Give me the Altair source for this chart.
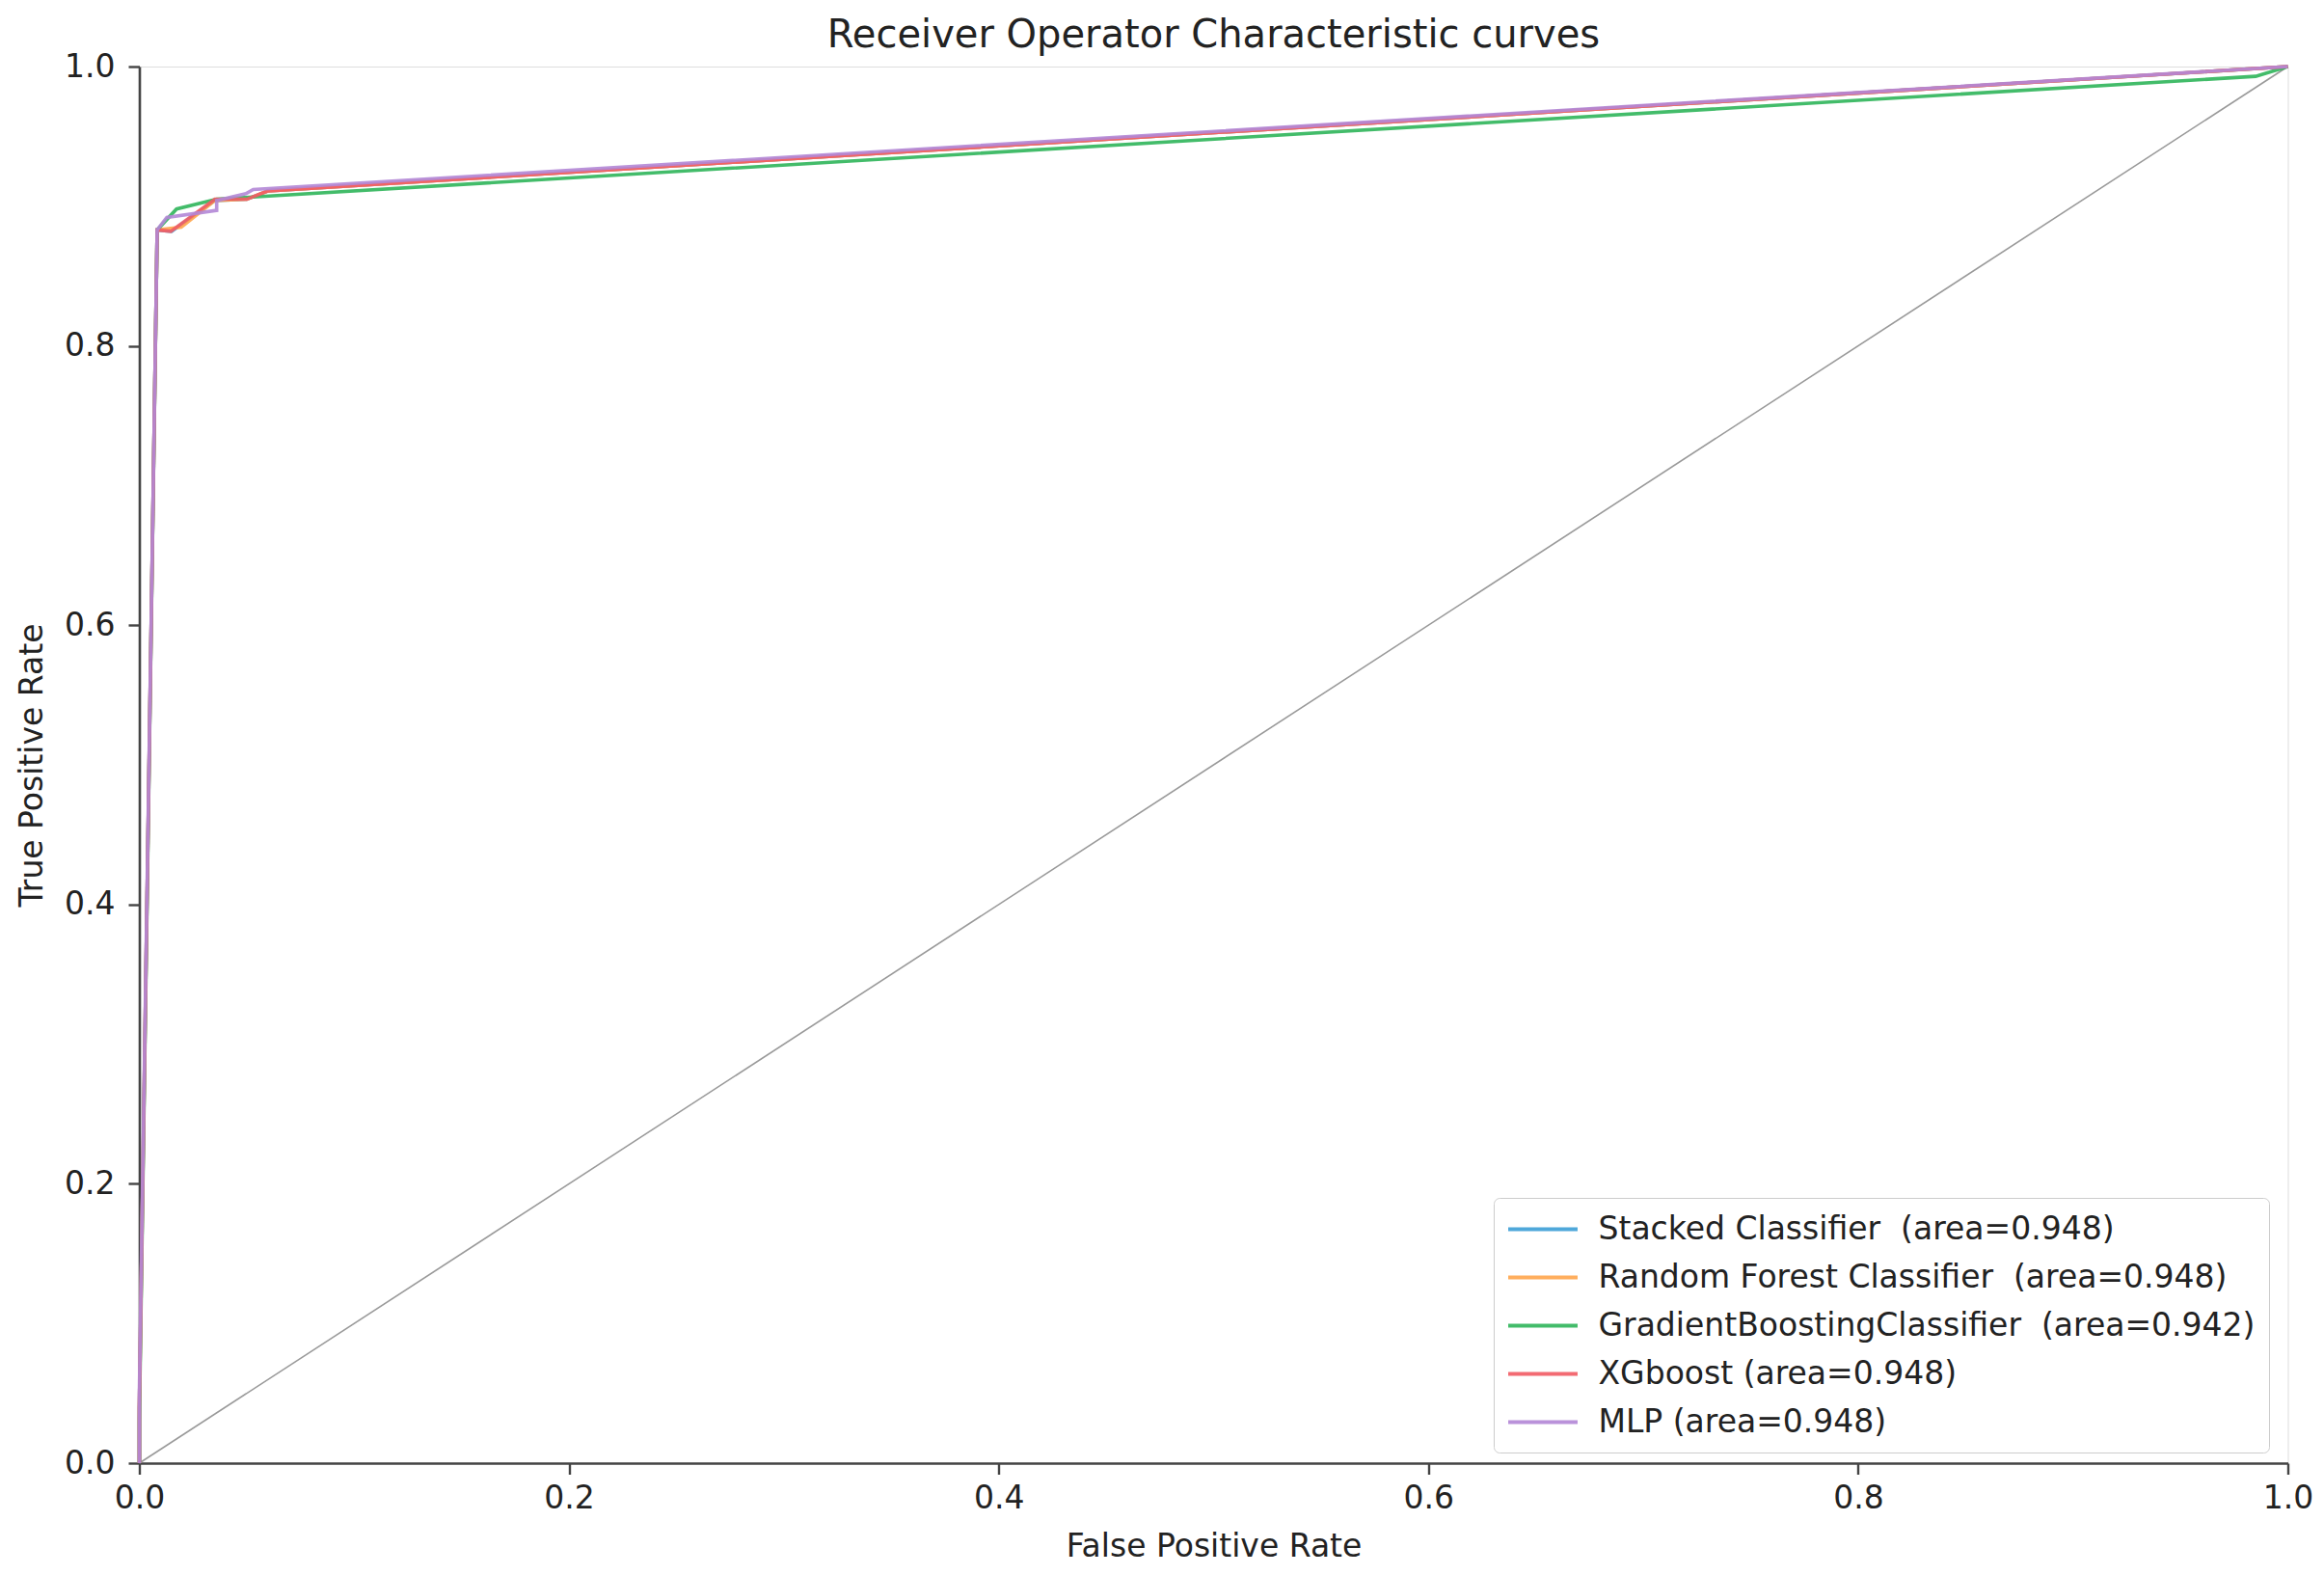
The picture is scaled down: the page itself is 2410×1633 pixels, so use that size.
import altair as alt
import pandas as pd

# ---- data ----
models = [
    "Stacked Classifier\u00a0 (area=0.948)",
    "Random Forest Classifier\u00a0 (area=0.948)",
    "GradientBoostingClassifier\u00a0 (area=0.942)",
    "XGboost (area=0.948)",
    "MLP (area=0.948)",
]
colors = ["#3d9fd6", "#ffa64d", "#2fb55a", "#f25c64", "#b387d6"]

stacked_fpr = [0.0, 0.0, 0.0083, 0.0150, 0.0350, 0.0500, 0.0600, 1.0]
stacked_tpr = [0.0, 0.04, 0.883, 0.882, 0.904, 0.905, 0.911, 1.0]

rf_fpr = [0.0, 0.0, 0.0083, 0.0195, 0.0350, 0.0500, 0.0600, 1.0]
rf_tpr = [0.0, 0.04, 0.883, 0.885, 0.904, 0.905, 0.911, 1.0]

gb_fpr = [0.0, 0.0, 0.0083, 0.0173, 0.0360, 0.985, 1.0]
gb_tpr = [0.0, 0.03, 0.883, 0.898, 0.905, 0.993, 1.0]

xgb_fpr = [0.0, 0.0, 0.0083, 0.0146, 0.0352, 0.0500, 0.0600, 1.0]
xgb_tpr = [0.0, 0.04, 0.883, 0.882, 0.905, 0.905, 0.911, 1.0]

mlp_fpr = [0.0, 0.0, 0.0083, 0.0128, 0.0360, 0.0360, 0.0496, 0.0530, 1.0]
mlp_tpr = [0.0, 0.05, 0.883, 0.892, 0.897, 0.904, 0.909, 0.912, 1.0]

diag_x = [0.0, 1.0]
diag_y = [0.0, 1.0]

tick_values = [0.0, 0.2, 0.4, 0.6, 0.8, 1.0]

series = [
    (models[0], stacked_fpr, stacked_tpr),
    (models[1], rf_fpr, rf_tpr),
    (models[2], gb_fpr, gb_tpr),
    (models[3], xgb_fpr, xgb_tpr),
    (models[4], mlp_fpr, mlp_tpr),
]

rows = []
for name, xs, ys in series:
    for i, (x, y) in enumerate(zip(xs, ys)):
        rows.append({"model": name, "fpr": x, "tpr": y, "i": i})
df = pd.DataFrame(rows)
diag = pd.DataFrame({"fpr": diag_x, "tpr": diag_y, "i": [0, 1]})

FONT = "DejaVu Sans"

xscale = alt.Scale(domain=[0, 1], nice=False, zero=False)
yscale = alt.Scale(domain=[0, 1], nice=False, zero=False)

x_axis = alt.Axis(
    values=tick_values, format=".1f", grid=False, title="False Positive Rate",
    labelFontSize=33, titleFontSize=33, labelFont=FONT, titleFont=FONT,
    tickSize=11.5, labelPadding=9, tickWidth=2.4, domainWidth=2.6,
    domainColor="#444", tickColor="#444", labelColor="#222", titleColor="#222",
    titleFontWeight="normal", titleY=96, titleBaseline="alphabetic",
    labelFlush=False,
)
y_axis = alt.Axis(
    values=tick_values, format=".1f", grid=False, title="True Positive Rate",
    labelFontSize=33, titleFontSize=33, labelFont=FONT, titleFont=FONT,
    tickSize=11.5, labelPadding=14, tickWidth=2.4, domainWidth=2.6,
    domainColor="#444", tickColor="#444", labelColor="#222", titleColor="#222",
    titleFontWeight="normal", titleX=-101.5, titleBaseline="alphabetic",
    labelFlush=False,
)

color_scale = alt.Scale(domain=models, range=colors)

diag_line = alt.Chart(diag).mark_line(color="#9a9a9a", strokeWidth=1.6).encode(
    x=alt.X("fpr:Q", scale=xscale, axis=x_axis),
    y=alt.Y("tpr:Q", scale=yscale, axis=y_axis),
    order="i:O",
)

legend = alt.Legend(
    title=None, orient="none", legendX=1404.5, legendY=1173,
    symbolType="M-2.18,0H2.18", symbolSize=1089, symbolStrokeWidth=4,
    symbolOffset=18.5, labelOffset=39,
    labelFont=FONT, labelFontSize=33, labelColor="#222", labelLimit=2000,
    rowPadding=14, padding=14, strokeColor="#cccccc", cornerRadius=6,
    fillColor="#ffffff",
)

layers = [diag_line]
for name in models:
    layers.append(
        alt.Chart(df)
        .transform_filter(alt.datum.model == name)
        .mark_line(strokeWidth=3.6, opacity=0.9)
        .encode(
            x=alt.X("fpr:Q", scale=xscale, axis=x_axis),
            y=alt.Y("tpr:Q", scale=yscale, axis=y_axis),
            color=alt.Color("model:N", scale=color_scale, legend=legend),
            order="i:O",
        )
    )

chart = (
    alt.layer(*layers)
    .properties(
        width=2228, height=1448,
        autosize=alt.AutoSizeParams(type="none"),
        padding={"left": 136.5, "top": 61, "right": 28, "bottom": 112},
        title=alt.TitleParams(
            "Receiver Operator Characteristic curves", fontSize=40, font=FONT,
            fontWeight="normal", color="#222", offset=8, dy=12,
        ),
    )
    .configure_view(stroke=None)
    .configure(background="white")
)

chart.save("out.html", embed_options={"renderer": "svg", "actions": False})
